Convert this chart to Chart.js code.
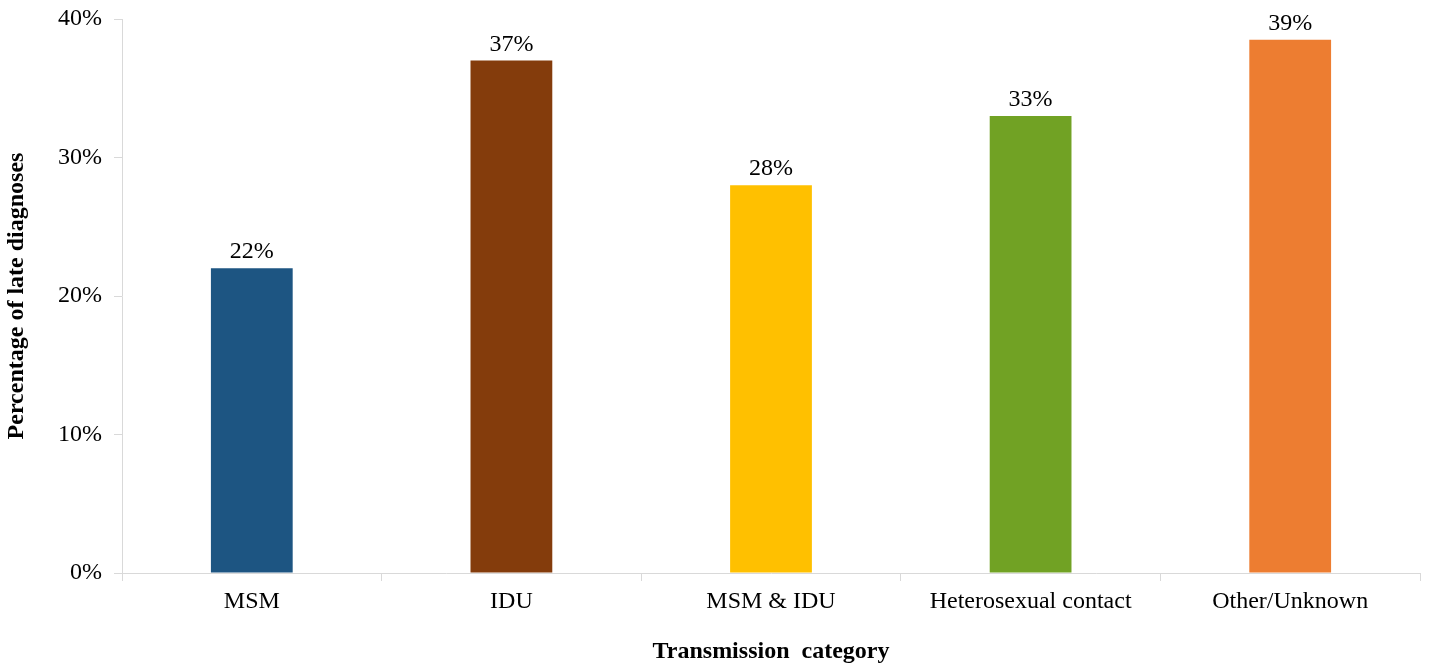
<!DOCTYPE HTML>
<html>

<head>
    <meta charset="UTF-8">
    <title>Late diagnoses by transmission category</title>
    <script src="https://cdn.jsdelivr.net/npm/chart.js"></script>
    <style>
        html, body { margin: 0; padding: 0; background: #fff; }
        #wrap { width: 1430px; height: 666px; }
    </style>
</head>

<body>
    <div id="wrap"><canvas id="myChart" width="1430" height="666"></canvas></div>
    <script>
        // values
        const categories = ['MSM', 'IDU', 'MSM & IDU', 'Heterosexual contact', 'Other/Unknown'];
        const lateShare = [22, 37, 28, 33, 38.5];
        const barColors = ['#1D5582', '#843C0C', '#FFC000', '#71A224', '#ED7D31'];
        const yTicks = [0, 10, 20, 30, 40];

        const serif = "'Liberation Serif', 'Times New Roman', serif";

        // draws the "22%" labels above each bar
        const valueLabels = {
            id: 'valueLabels',
            afterDatasetsDraw(chart) {
                const ctx = chart.ctx;
                const meta = chart.getDatasetMeta(0);
                ctx.save();
                ctx.font = '24px ' + serif;
                ctx.fillStyle = '#000';
                ctx.textAlign = 'center';
                ctx.textBaseline = 'alphabetic';
                meta.data.forEach((bar, i) => {
                    ctx.fillText(Math.round(lateShare[i]) + '%', bar.x, bar.y - 10);
                });
                ctx.restore();
            }
        };

        var ctx = document.getElementById('myChart').getContext('2d');
        const chart = new Chart(ctx, {
            type: 'bar',
            data: {
                labels: categories,
                datasets: [{
                    data: lateShare,
                    backgroundColor: barColors,
                    categoryPercentage: 1,
                    barPercentage: 0.315
                }]
            },
            options: {
                responsive: false,
                animation: false,
                layout: { padding: { top: 19, right: 10, left: 0, bottom: 0 } },
                plugins: {
                    legend: { display: false },
                    tooltip: { enabled: false }
                },
                scales: {
                    x: {
                        grid: { offset: true, drawOnChartArea: false, tickLength: 8, color: '#d9d9d9' },
                        border: { color: '#d9d9d9' },
                        ticks: { color: '#000', font: { family: serif, size: 24 }, padding: 6, maxRotation: 0 },
                        title: {
                            display: true,
                            text: 'Transmission  category',
                            color: '#000',
                            font: { family: serif, size: 24, weight: 'bold' },
                            padding: { top: 20, bottom: 0 }
                        },
                        afterFit: s => { s.height = 93; s.paddingLeft = 0; s.paddingRight = 0; }
                    },
                    y: {
                        min: 0,
                        max: 40,
                        afterBuildTicks: s => { s.ticks = yTicks.map(v => ({ value: v })); },
                        grid: { drawOnChartArea: false, tickLength: 8, color: '#d9d9d9' },
                        border: { color: '#d9d9d9' },
                        ticks: {
                            color: '#000',
                            font: { family: serif, size: 24 },
                            padding: 12,
                            callback: v => v + '%'
                        },
                        title: {
                            display: true,
                            text: 'Percentage of late diagnoses',
                            color: '#000',
                            font: { family: serif, size: 24, weight: 'bold' },
                            padding: { top: 2, bottom: 10 }
                        },
                        afterFit: s => { s.width = 122; s.paddingTop = 0; s.paddingBottom = 0; }
                    }
                }
            },
            plugins: [valueLabels]
        });
    </script>
</body>

</html>
